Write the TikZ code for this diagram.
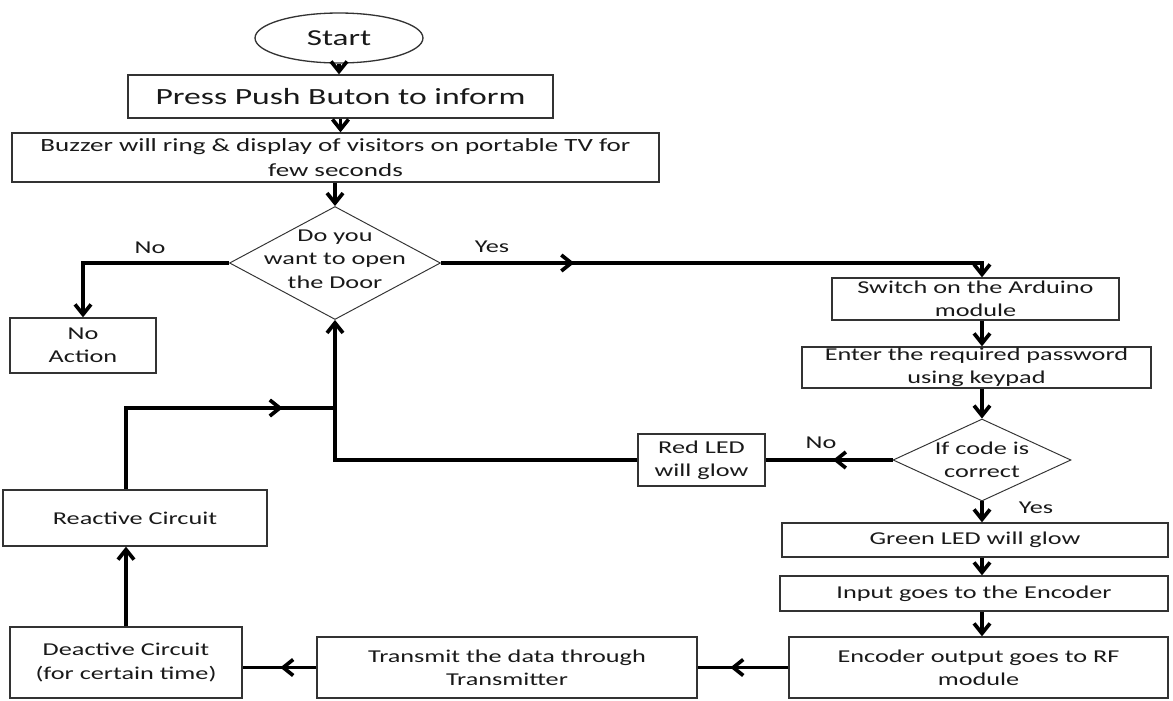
\documentclass[tikz,border=0pt]{standalone}
\usepackage{fontspec}
\setmainfont{Carlito}[FakeStretch=1.45]
\usetikzlibrary{shapes.geometric,arrows.meta,decorations.markings}

\tikzset{
  box/.style={draw=black!80, line width=0.75pt, inner sep=0pt, align=center,
    text=black!90, font=\fontsize{10.3}{13.2}\selectfont},
  decision/.style={diamond, draw=black!80, line width=0.55pt, inner sep=0pt},
  lbl/.style={text=black!90, font=\fontsize{10.3}{13.3}\selectfont},
  flow/.style={line width=2.1pt, line join=miter},
  tip/.style={-{Straight Barb[length=2mm,width=3.2mm]}},
  midtip/.style={postaction={decorate}, decoration={markings,
    mark=at position #1 with {\arrow{Straight Barb[length=2mm,width=3.2mm]}}}}
}

\begin{document}
\begin{tikzpicture}[x=0.02cm, y=-0.02cm]
  \useasboundingbox (0,0) rectangle (1173,700);

  % main column
  \node[box, ellipse, minimum width=3.36cm, minimum height=1cm,
    font=\fontsize{13}{15}\selectfont] (start) at (339,38) {Start};
  \node[box, minimum width=8.5cm, minimum height=0.86cm,
    font=\fontsize{13.2}{15}\selectfont] (press) at (340.5,96.5) {Press Push Buton to inform};
  \node[box, minimum width=12.94cm, minimum height=0.98cm,
    font=\fontsize{10.6}{14}\selectfont] (buzzer) at (335.5,157.5)
    {Buzzer will ring \& display of visitors on portable TV for\\few seconds};
  \node[decision, minimum width=4.22cm, minimum height=2.26cm,
    label={[lbl, align=center, yshift=0.08cm]center:Do you\\want to open\\the Door}] (door) at (335,263) {};
  \node[box, minimum width=2.92cm, minimum height=1.1cm] (noact) at (83,345.5) {No\\Action};

  % right column
  \node[box, minimum width=5.74cm, minimum height=0.84cm] (switch) at (975.5,299) {Switch on the Arduino\\module};
  \node[box, minimum width=6.98cm, minimum height=0.82cm] (enter) at (976.5,367.5) {Enter the required password\\using keypad};
  \node[decision, minimum width=3.56cm, minimum height=1.64cm,
    label={[lbl, align=center]center:If code is\\correct}] (code) at (982,460) {};
  \node[box, minimum width=2.54cm, minimum height=1.04cm] (redled) at (701.5,460) {Red LED\\will glow};
  \node[box, minimum width=7.72cm, minimum height=0.68cm] (green) at (975,540) {Green LED will glow};
  \node[box, minimum width=7.76cm, minimum height=0.7cm] (input) at (974,593.5) {Input goes to the Encoder};
  \node[box, minimum width=7.58cm, minimum height=1.22cm] (encoder) at (978.5,667.5) {Encoder output goes to RF\\module};

  % bottom row and loop back
  \node[box, minimum width=7.6cm, minimum height=1.22cm] (transmit) at (507,667.5) {Transmit the data through\\Transmitter};
  \node[box, minimum width=4.64cm, minimum height=1.42cm] (deactive) at (126,662.5) {Deactive Circuit\\(for certain time)};
  \node[box, minimum width=5.28cm, minimum height=1.12cm] (reactive) at (135,518) {Reactive Circuit};

  % branch labels
  \node[lbl] (nodoor) at (150,248) {No};
  \node[lbl] (yesdoor) at (492,247) {Yes};
  \node[lbl] (nocode) at (821,443) {No};
  \node[lbl] (yescode) at (1036,508) {Yes};

  \coordinate (ycorner) at (door.east -| code.north);
  \coordinate (join) at (335,408);
  \coordinate (rcorner) at (deactive.north |- join);

  % connectors
  \draw[flow, tip] (start.south) -- (start.south |- press.north);
  \draw[flow, tip] (press.south) -- (press.south |- buzzer.north);
  \draw[flow, tip] (door.north |- buzzer.south) -- (door.north);
  \draw[flow, tip] (door.west) -| (noact.north);
  \draw[flow, tip, midtip=0.24] (door.east) -- (ycorner) -- (ycorner |- switch.north);
  \draw[flow, tip] (code.north |- switch.south) -- (code.north |- enter.north);
  \draw[flow, tip] (code.north |- enter.south) -- (code.north);
  \draw[flow, midtip=0.47] (code.west) -- (redled.east);
  \draw[flow, tip] (redled.west) -- (redled.west -| door.south) -- (door.south);
  \draw[flow, tip] (code.south) -- (code.south |- green.north);
  \draw[flow, tip] (code.south |- green.south) -- (code.south |- input.north);
  \draw[flow, tip] (code.south |- input.south) -- (code.south |- encoder.north);
  \draw[flow, midtip=0.64] (encoder.west) -- (transmit.east);
  \draw[flow, midtip=0.49] (transmit.west) -- (deactive.east |- transmit.west);
  \draw[flow, tip] (rcorner |- deactive.north) -- (rcorner |- reactive.south);
  \draw[flow, midtip=0.82] (rcorner |- reactive.north) -- (rcorner) -- (join);
\end{tikzpicture}
\end{document}
